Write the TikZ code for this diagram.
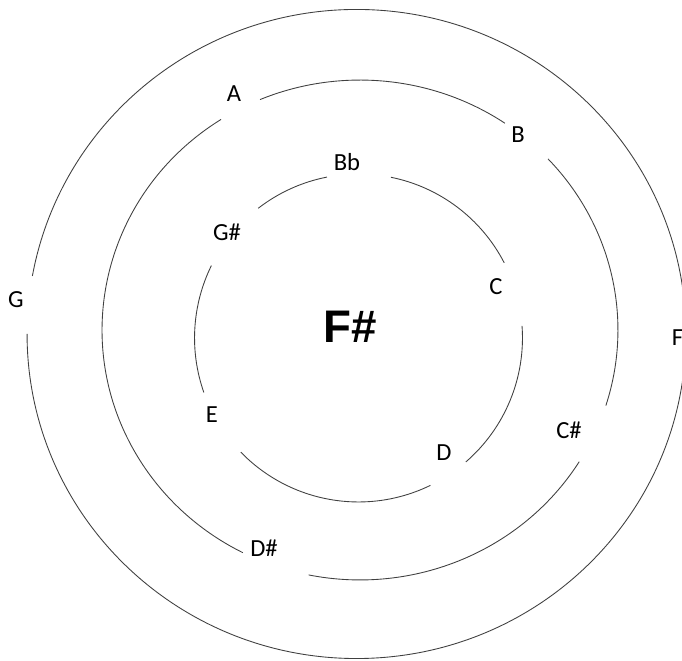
\documentclass[tikz,border=0pt]{standalone}
\usepackage{fontspec}
\setmainfont{Carlito}
\newfontfamily\keyfont{Liberation Sans}
\begin{document}
\begin{tikzpicture}[x=0.02cm, y=0.02cm,
    every node/.style={font=\fontsize{14}{16}\selectfont, inner sep=0pt},
    ring/.style={draw=black!75, line width=0.5pt}]
    \useasboundingbox (0,0) rectangle (682,661);
    \clip (0,0) rectangle (682,661);
    % centres of the three rings
    \coordinate (outer) at (356.5,327);
    \coordinate (middle) at (360,331);
    \coordinate (inner) at (358.5,323);
    % outer ring (gap at G)
    \draw[ring] ([shift={(-180:6.59cm and 6.492cm)}]outer) arc[start angle=-180, end angle=169.7, x radius=6.59cm, y radius=6.492cm];
    % middle ring
    \draw[ring] ([shift={(55.8:5.16cm and 5cm)}]middle) arc[start angle=55.8, end angle=112.8, x radius=5.16cm, y radius=5cm];
    \draw[ring] ([shift={(-17.6:5.16cm and 5cm)}]middle) arc[start angle=-17.6, end angle=43.2, x radius=5.16cm, y radius=5cm];
    \draw[ring] ([shift={(-101.5:5.16cm and 5cm)}]middle) arc[start angle=-101.5, end angle=-31.8, x radius=5.16cm, y radius=5cm];
    \draw[ring] ([shift={(122.6:5.16cm and 5cm)}]middle) arc[start angle=122.6, end angle=243, x radius=5.16cm, y radius=5cm];
    % inner ring
    \draw[ring] ([shift={(101.1:3.28cm)}]inner) arc[start angle=101.1, end angle=127.7, radius=3.28cm];
    \draw[ring] ([shift={(153.8:3.28cm)}]inner) arc[start angle=153.8, end angle=199.4, radius=3.28cm];
    \draw[ring] ([shift={(224.1:3.28cm)}]inner) arc[start angle=224.1, end angle=296, radius=3.28cm];
    \draw[ring] ([shift={(-49.1:3.28cm)}]inner) arc[start angle=-49.1, end angle=4.2, radius=3.28cm];
    \draw[ring] ([shift={(27.3:3.28cm)}]inner) arc[start angle=27.3, end angle=78.6, radius=3.28cm];
    % note names
    \node (g) at (16,361) {G};
    \node (f) at (677.5,323) {F};
    \node (a) at (234,567) {A};
    \node (b) at (518,526) {B};
    \node (csharp) at (569,231) {C\#};
    \node (dsharp) at (264,113) {D\#};
    \node (bflat) at (347,499) {Bb};
    \node (gsharp) at (227,429) {G\#};
    \node (c) at (496,374) {C};
    \node (d) at (444,208) {D};
    \node (e) at (212,246) {E};
    \node[font=\keyfont\bfseries\fontsize{26}{30}\selectfont] (key) at (350,334) {F\#};
\end{tikzpicture}
\end{document}
